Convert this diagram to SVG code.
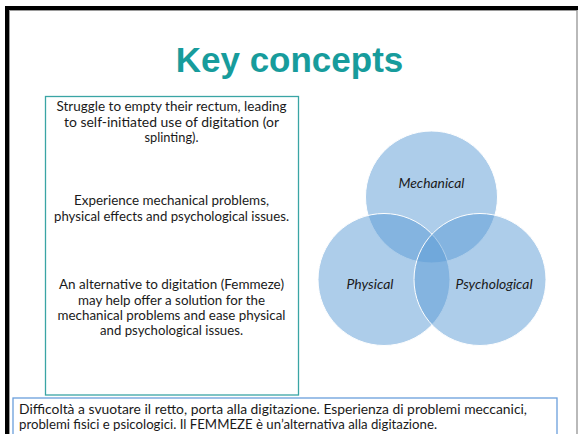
<svg xmlns="http://www.w3.org/2000/svg" width="578" height="434" viewBox="0 0 578 434">
  <style>
    .body { font-family: Lato, "Liberation Sans", sans-serif; font-size: 13px; fill: #1a1a1a; text-anchor: middle; }
    .cap { font-family: Lato, "Liberation Sans", sans-serif; font-size: 13px; fill: #1a1a1a; }
    .venn { font-family: Lato, "Liberation Sans", sans-serif; font-size: 13px; font-style: italic; fill: #1a1a1a; text-anchor: middle; }
    .set { fill: #5b9bd5; fill-opacity: 0.5; stroke: #ffffff; stroke-width: 1; }
  </style>

  <!-- page background and frame -->
  <rect x="0" y="0" width="578" height="434" fill="#ffffff"/>
  <rect x="5" y="6" width="573" height="4" fill="#000000"/>
  <rect x="5" y="6" width="4" height="428" fill="#000000"/>
  <line x1="9" y1="10.5" x2="577" y2="10.5" stroke="#9a9a9a" stroke-width="1"/>
  <line x1="9.5" y1="10" x2="9.5" y2="434" stroke="#9a9a9a" stroke-width="1"/>
  <line x1="577" y1="10" x2="577" y2="434" stroke="#8a8a8a" stroke-width="1.2"/>

  <!-- title -->
  <g id="title">
    <text x="289.5" y="72" font-family="'Liberation Sans', Arial, sans-serif" font-size="35" font-weight="bold" fill="#179c9c" text-anchor="middle">Key concepts</text>
  </g>

  <!-- summary text box -->
  <g id="summary">
    <rect x="45.5" y="96.5" width="253" height="298.5" fill="none" stroke="#3aa5a5" stroke-width="1.3"/>
    <text class="body" x="171.5" y="111" textLength="230" lengthAdjust="spacingAndGlyphs">Struggle to empty their rectum, leading</text>
    <text class="body" x="171.5" y="126.5" textLength="215" lengthAdjust="spacingAndGlyphs">to self-initiated use of digitation (or</text>
    <text class="body" x="171.5" y="142" textLength="54" lengthAdjust="spacingAndGlyphs">splinting).</text>
    <text class="body" x="171.5" y="205" textLength="195" lengthAdjust="spacingAndGlyphs">Experience mechanical problems,</text>
    <text class="body" x="171.5" y="221" textLength="235" lengthAdjust="spacingAndGlyphs">physical effects and psychological issues.</text>
    <text class="body" x="171.5" y="289" textLength="225" lengthAdjust="spacingAndGlyphs">An alternative to digitation (Femmeze)</text>
    <text class="body" x="171.5" y="304.5" textLength="187" lengthAdjust="spacingAndGlyphs">may help offer a solution for the</text>
    <text class="body" x="171.5" y="319.5" textLength="228" lengthAdjust="spacingAndGlyphs">mechanical problems and ease physical</text>
    <text class="body" x="171.5" y="335" textLength="143" lengthAdjust="spacingAndGlyphs">and psychological issues.</text>
  </g>

  <!-- three-set Venn diagram -->
  <g id="mechanical">
    <circle class="set" cx="431.5" cy="197" r="66"/>
  </g>
  <g id="physical">
    <circle class="set" cx="384" cy="279.5" r="66"/>
  </g>
  <g id="psychological">
    <circle class="set" cx="480" cy="279.5" r="66"/>
  </g>
  <g id="venn-labels">
    <text class="venn" x="431.5" y="187.5" textLength="66" lengthAdjust="spacingAndGlyphs">Mechanical</text>
    <text class="venn" x="370" y="288.5" textLength="47" lengthAdjust="spacingAndGlyphs">Physical</text>
    <text class="venn" x="494" y="288.5" textLength="77" lengthAdjust="spacingAndGlyphs">Psychological</text>
  </g>

  <!-- Italian caption box -->
  <g id="caption">
    <rect x="13" y="398" width="544" height="50" fill="#ffffff" stroke="#6a9fdc" stroke-width="1.3"/>
    <text class="cap" x="19" y="414" textLength="508" lengthAdjust="spacingAndGlyphs">Difficoltà a svuotare il retto, porta alla digitazione. Esperienza di problemi meccanici,</text>
    <text class="cap" x="19" y="428.5" textLength="418" lengthAdjust="spacingAndGlyphs">problemi fisici e psicologici. Il FEMMEZE è un’alternativa alla digitazione.</text>
  </g>
</svg>
